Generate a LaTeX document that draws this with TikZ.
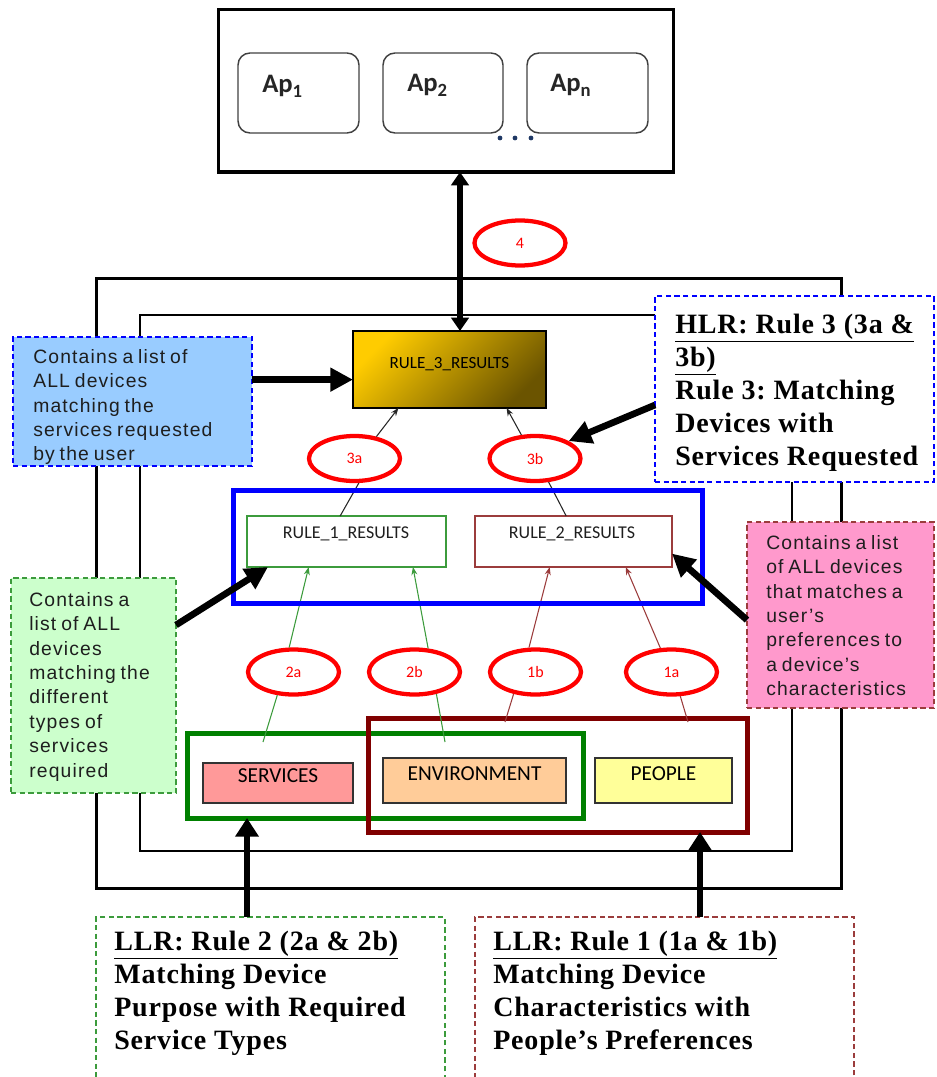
\documentclass[tikz,border=0pt]{standalone}
\usepackage{fontspec}
\setmainfont{Liberation Serif}
\newfontfamily\callfont{Liberation Sans}[LetterSpace=6,WordSpace=0.75]
\newfontfamily\carl{Carlito}
\newfontfamily\timesb{Liberation Serif}[LetterSpace=3]
\usetikzlibrary{shapes.geometric,arrows.meta,fit,calc}
\frenchspacing
\definecolor{rgreen}{HTML}{008000}
\definecolor{rred}{HTML}{800000}
\definecolor{lgreen}{HTML}{3C9B3C}
\definecolor{lred}{HTML}{9B3C3C}
\definecolor{cblue}{HTML}{99CCFF}
\definecolor{cgreen}{HTML}{CCFFCC}
\definecolor{cpink}{HTML}{FF99CC}
\definecolor{goldA}{HTML}{FFCC00}
\definecolor{goldB}{HTML}{6B5400}
\definecolor{servc}{HTML}{FF9999}
\definecolor{envc}{HTML}{FFCC99}
\definecolor{pplc}{HTML}{FFFF99}
\definecolor{navy}{HTML}{1F3864}
\definecolor{txt}{HTML}{1E1E1E}
\definecolor{dblue}{HTML}{0000FF}
\def\PX{0.75pt}
\begin{document}
\begin{tikzpicture}[x=0.75pt,y=-0.75pt,
  fitbox/.style={rectangle,inner sep=0pt,outer sep=0pt},
  apbox/.style={fitbox,draw=black!75,line width=1.1pt,rounded corners=9pt},
  aptext/.style={inner sep=0pt,font=\carl\bfseries\fontsize{20}{24}\selectfont,text=black!85},
  leaf/.style={fitbox,draw=black!80,line width=1.1pt,font=\carl\fontsize{16}{19}\selectfont,text=black},
  ruletext/.style={inner sep=0pt,font=\carl\fontsize{13.5}{16}\selectfont,text=txt},
  ell/.style={ellipse,draw=red,line width=3.2pt,minimum width=91*\PX,minimum height=45*\PX,inner sep=0pt,
    font=\carl\fontsize{12}{14}\selectfont,text=red},
  callbox/.style={fitbox,line width=1.1pt,dash pattern=on 4pt off 2.5pt},
  calltext/.style={inner sep=0pt,align=left,anchor=north west,text=txt,
    font=\callfont\fontsize{14.5}{18.3}\selectfont},
  sertext/.style={inner sep=0pt,align=left,anchor=north west,text=black,
    font=\timesb\bfseries\fontsize{21}{24.75}\selectfont},
  callarrow/.style={line width=5pt,-{Triangle[length=17pt,width=17pt]}},
  uparrow/.style={line width=5pt,-{Triangle[length=14pt,width=17pt]}},
  dblarrow/.style={line width=4pt,{Triangle[length=10pt,width=13pt]}-{Triangle[length=10pt,width=13pt]}},
  thinarrow/.style={line width=0.8pt,-{Stealth[length=6pt,width=4.5pt]}},
  gline/.style={line width=0.8pt,draw=lgreen},
  rline/.style={line width=0.8pt,draw=lred}
]
\useasboundingbox (0,0) rectangle (936,1077);

% frames
\node[fitbox,draw=black,line width=2.25pt,fit={(96,278) (841,888)}] (outer) {};
\node[fitbox,draw=black,line width=1.1pt,fit={(140,315) (792,851)}] (inner) {};

% top application box
\node[fitbox,draw=black,line width=2.25pt,fit={(218,10) (673,172)}] (topbox) {};
\node[apbox,fit={(238,53) (359,133)}] (ap1) {};
\node[apbox,fit={(383,53) (503,133)}] (ap2) {};
\node[apbox,fit={(527,53) (648,133)}] (apn) {};
\node[aptext,anchor=base west] (ap1t) at (262,93) {Ap\textsubscript{1}};
\node[aptext,anchor=base west] (ap2t) at (407,92) {Ap\textsubscript{2}};
\node[aptext,anchor=base west] (apnt) at (550,92) {Ap\textsubscript{n}};
\fill[navy] (500,138) circle[radius=1.8pt] (515,138) circle[radius=1.8pt] (531,138) circle[radius=1.8pt];

% rule boxes
\node[fitbox,draw=black,line width=0.9pt,top color=goldA,bottom color=goldB,shading angle=45,
  fit={(353,331) (546,408)},font=\carl\fontsize{12.8}{15}\selectfont,text=black] (r3) {RULE\_3\_RESULTS};
\node[fitbox,draw=lgreen,line width=0.9pt,fit={(247,516) (446,567)}] (r1) {};
\node[fitbox,draw=lred,line width=0.9pt,fit={(475,516) (672,567)}] (r2) {};
\node[ruletext,anchor=base] (r1t) at (346,538) {RULE\_1\_RESULTS};
\node[ruletext,anchor=base] (r2t) at (572,538) {RULE\_2\_RESULTS};

% lower groups
\node[fitbox,draw=rgreen,line width=3.75pt,fit={(187,733) (583,818)}] (gbox) {};
\node[fitbox,draw=rred,line width=3.75pt,fit={(368,718) (747,832)}] (rbox) {};
\node[leaf,fill=servc,fit={(203,763) (353,803)}] (serv) {SERVICES};
\node[leaf,fill=envc,fit={(383,758) (566,803)}] (env) {ENVIRONMENT};
\node[leaf,fill=pplc,fit={(595,758) (732,803)}] (ppl) {PEOPLE};

% ellipses
\node[ell] (e4) at (520,243) {4};
\node[ell] (e3a) at (354.5,458.5) {3a};
\node[ell] (e3b) at (535,458.5) {3b};
\node[ell] (e2a) at (293.5,672) {2a};
\node[ell] (e2b) at (414.5,672) {2b};
\node[ell] (e1b) at (535.5,672) {1b};
\node[ell] (e1a) at (671.5,672) {1a};

% thin connectors
\draw[thinarrow,draw=black!85] (e3a.45) -- (r3.217);
\draw[thinarrow,draw=black!85] (e3b.120) -- (r3.326);
\draw[line width=0.8pt,draw=black!85] (r1.104) -- (e3a.280);
\draw[line width=0.8pt,draw=black!85] (r2.106) -- (e3b.300);

\coordinate (c2a) at (263,742);
\coordinate (c2b) at (445,742);
\coordinate (c1b) at (505,722);
\coordinate (c1a) at (688,722);
\draw[gline,thinarrow,draw=lgreen] (e2a.100) -- (r1.214);
\draw[gline,thinarrow,draw=lgreen] (e2b.60) -- (r1.339);
\draw[gline] (e2a.-125) -- (c2a);
\draw[gline] (e2b.-45) -- (c2b);
\draw[rline,thinarrow,draw=lred] (e1b.105) -- (r2.227);
\draw[rline,thinarrow,draw=lred] (e1a.115) -- (r2.334);
\draw[rline] (e1b.-135) -- (c1b);
\draw[rline] (e1a.-70) -- (c1a);

% blue group box
\node[fitbox,draw=dblue,line width=3.75pt,fit={(233,490) (702,603)}] (bbox) {};

% callouts
\node[callbox,fill=cblue,draw=dblue,fit={(13,337) (252,466)}] (lb) {};
\node[calltext] (lbt) at (33,349) {Contains a list of\\ALL devices\\matching the\\services requested\\by the user};

\node[callbox,fill=white,draw=dblue,fit={(655,296) (934,482)}] (hlr) {};
\node[sertext] (hlrt) at (675,314) {\underline{HLR: Rule 3 (3a \&}\\\underline{3b)}\\Rule 3: Matching\\Devices with\\Services Requested};

\node[callbox,fill=cgreen,draw=lgreen,fit={(11,578) (176,793)}] (gc) {};
\node[calltext] (gct) at (29,592) {Contains a\\list of ALL\\devices\\matching the\\different\\types of\\services\\required};

\node[callbox,fill=cpink,draw=lred,fit={(747,522) (934,708)}] (pk) {};
\node[calltext] (pkt) at (766,535) {Contains a list\\of ALL devices\\that matches a\\user’s\\preferences to\\a device’s\\characteristics};

\node[callbox,draw=lgreen,fit={(96,917) (445,1095)}] (llr2) {};
\node[sertext] (llr2t) at (114,931) {\underline{LLR: Rule 2 (2a \& 2b)}\\Matching Device\\Purpose with Required\\Service Types};
\node[callbox,draw=lred,fit={(475,917) (854,1095)}] (llr1) {};
\node[sertext] (llr1t) at (493,931) {\underline{LLR: Rule 1 (1a \& 1b)}\\Matching Device\\Characteristics with\\People’s Preferences};

% thick arrows
\coordinate (a4x) at (460,0);
\draw[dblarrow] (topbox.south -| a4x) -- (r3.north -| a4x);
\draw[callarrow] (r3.186 -| lb.east) -- (r3.186);
\coordinate (hA) at (655,405);
\draw[callarrow] (hA) -- (e3b.north east);
\coordinate (gA) at (176,625);
\draw[callarrow] (gA) -- (r1.198);
\coordinate (pA) at (747,620);
\draw[callarrow] (pA) -- (r2.-7);
\coordinate (a2x) at (247,0);
\coordinate (a1x) at (700,0);
\draw[uparrow] (llr2.north -| a2x) -- (gbox.south -| a2x);
\draw[uparrow] (llr1.north -| a1x) -- (rbox.south -| a1x);
\end{tikzpicture}
\end{document}
